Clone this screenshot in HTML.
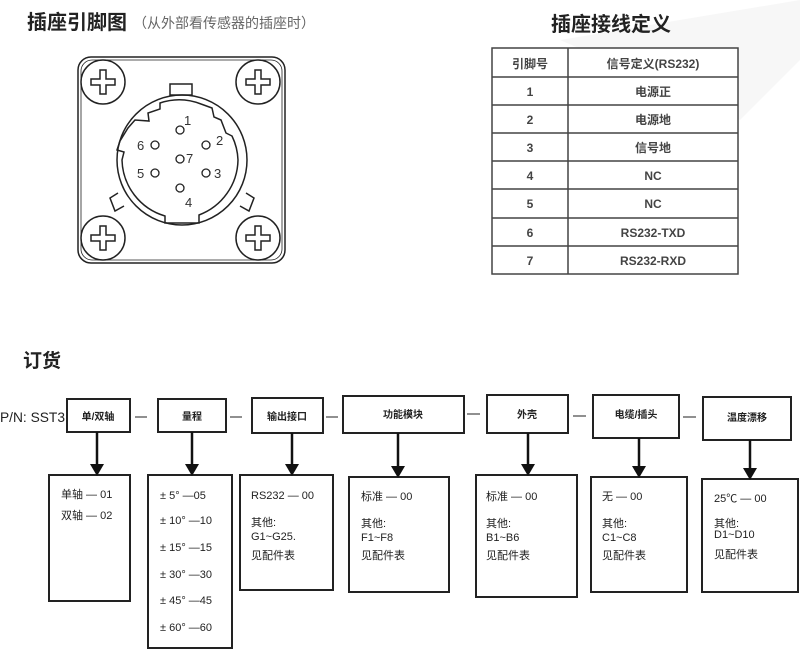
<!DOCTYPE html>
<html><head><meta charset="utf-8"><style>
html,body{margin:0;padding:0;background:#fff}
svg{display:block}
text{font-family:"Liberation Sans","Noto Sans CJK SC",sans-serif}
</style></head><body>
<svg width="800" height="650" viewBox="0 0 800 650" xmlns="http://www.w3.org/2000/svg">
<defs>
<path id="scr" d="M-3,-12 h6 v9 h9 v6 h-9 v9 h-6 v-9 h-9 v-6 h9 Z" fill="none" stroke="#222" stroke-width="1.5"/>
</defs>
<polygon points="560,40 800,0 800,60 740,120 700,100" fill="#f7f7f7"/>
<text x="27" y="29" font-size="20" font-weight="bold" fill="#222">插座引脚图</text>
<text x="133" y="28" font-size="14" fill="#666">（从外部看传感器的插座时）</text>
<text x="611" y="31" font-size="20" font-weight="bold" fill="#222" text-anchor="middle">插座接线定义</text>

<!-- connector -->
<g fill="none" stroke="#222" stroke-width="1.5">
<rect x="78" y="57" width="207" height="206" rx="13"/>
<rect x="81" y="60" width="201" height="200" rx="11" stroke-width="0.8"/>
<circle cx="103" cy="82" r="22"/><circle cx="258" cy="82" r="22"/>
<circle cx="103" cy="238" r="22"/><circle cx="258" cy="238" r="22"/>
<circle cx="182" cy="160" r="65"/>
<path d="M135,120 L128,128 L120,141 L117,150 L124,152 L122,160 A60,60 0 0 0 165,216 L165,223 L199,223 L199,215 A60,60 0 0 0 238,160 A60,60 0 0 0 232,136 L226,133 L221,120 L214,117 L212,108 L201,104 A60,60 0 0 0 160,103 L160,109 L148,113 L149,121 Z"/>
<rect x="170" y="84" width="22" height="11"/>
<path d="M118,193 L110,198 L115,211 L124,206"/>
<path d="M246,193 L254,198 L249,211 L240,206"/>
</g>
<use href="#scr" x="103" y="82"/><use href="#scr" x="258" y="82"/>
<use href="#scr" x="103" y="238"/><use href="#scr" x="258" y="238"/>
<g fill="none" stroke="#222" stroke-width="1.3">
<circle cx="180" cy="130" r="4"/><circle cx="206" cy="145" r="4"/><circle cx="206" cy="173" r="4"/>
<circle cx="180" cy="188" r="4"/><circle cx="155" cy="173" r="4"/><circle cx="155" cy="145" r="4"/>
<circle cx="180" cy="159" r="4"/>
</g>
<g font-size="13" fill="#333">
<text x="184" y="125">1</text><text x="216" y="145">2</text><text x="214" y="178">3</text>
<text x="185" y="207">4</text><text x="137" y="178">5</text><text x="137" y="150">6</text><text x="186" y="163">7</text>
</g>

<!-- table -->
<g stroke="#444" stroke-width="1.5" fill="none">
<rect x="492" y="48" width="246" height="226" fill="#fff"/>
<line x1="568" y1="48" x2="568" y2="274"/>
<line x1="492" y1="77" x2="738" y2="77"/>
<line x1="492" y1="105" x2="738" y2="105"/>
<line x1="492" y1="133" x2="738" y2="133"/>
<line x1="492" y1="161" x2="738" y2="161"/>
<line x1="492" y1="189" x2="738" y2="189"/>
<line x1="492" y1="218" x2="738" y2="218"/>
<line x1="492" y1="246" x2="738" y2="246"/>
</g>
<g font-size="12" fill="#444" text-anchor="middle" font-weight="bold">
<text x="530" y="68">引脚号</text><text x="653" y="68">信号定义(RS232)</text>
<text x="530" y="96">1</text><text x="653" y="96">电源正</text>
<text x="530" y="124">2</text><text x="653" y="124">电源地</text>
<text x="530" y="152">3</text><text x="653" y="152">信号地</text>
<text x="530" y="180">4</text><text x="653" y="180">NC</text>
<text x="530" y="208">5</text><text x="653" y="208">NC</text>
<text x="530" y="237">6</text><text x="653" y="237">RS232-TXD</text>
<text x="530" y="265">7</text><text x="653" y="265">RS232-RXD</text>
</g>

<text x="23" y="367" font-size="19" font-weight="bold" fill="#222">订货</text>
<text x="0" y="422" font-size="14" fill="#222" textLength="65" lengthAdjust="spacingAndGlyphs">P/N: SST3</text>

<g stroke="#222" stroke-width="2" fill="none">
<rect x="67" y="399" width="63" height="33"/>
<rect x="158" y="399" width="68" height="33"/>
<rect x="252" y="398" width="71" height="35"/>
<rect x="343" y="396" width="121" height="37"/>
<rect x="487" y="395" width="81" height="38"/>
<rect x="593" y="395" width="86" height="43"/>
<rect x="703" y="397" width="88" height="43"/>
<rect x="49" y="475" width="81" height="126"/>
<rect x="148" y="475" width="84" height="173"/>
<rect x="240" y="475" width="93" height="115"/>
<rect x="349" y="477" width="100" height="115"/>
<rect x="476" y="475" width="101" height="122"/>
<rect x="591" y="477" width="96" height="115"/>
<rect x="702" y="479" width="96" height="113"/>
</g>
<g stroke="#222" stroke-width="1">
<line x1="135" y1="417" x2="147" y2="417"/><line x1="230" y1="417" x2="242" y2="417"/>
<line x1="326" y1="417" x2="338" y2="417"/><line x1="467" y1="414" x2="480" y2="414"/>
<line x1="573" y1="416" x2="586" y2="416"/><line x1="683" y1="417" x2="696" y2="417"/>
</g>
<g stroke="#111" stroke-width="2.5">
<line x1="97" y1="432" x2="97" y2="465"/><line x1="192" y1="432" x2="192" y2="465"/>
<line x1="292" y1="433" x2="292" y2="465"/><line x1="398" y1="433" x2="398" y2="467"/>
<line x1="528" y1="433" x2="528" y2="465"/><line x1="639" y1="438" x2="639" y2="467"/>
<line x1="750" y1="440" x2="750" y2="469"/>
</g>
<g fill="#111">
<polygon points="90,464 104,464 97,476"/><polygon points="185,464 199,464 192,476"/>
<polygon points="285,464 299,464 292,476"/><polygon points="391,466 405,466 398,478"/>
<polygon points="521,464 535,464 528,476"/><polygon points="632,466 646,466 639,478"/>
<polygon points="743,468 757,468 750,480"/>
</g>
<g font-size="10" fill="#222" text-anchor="middle" font-weight="bold">
<text x="98" y="420">单/双轴</text><text x="192" y="420">量程</text><text x="287" y="420">输出接口</text>
<text x="403" y="418">功能模块</text><text x="527" y="418">外壳</text><text x="636" y="418">电缆/插头</text>
<text x="747" y="421">温度漂移</text>
</g>
<g font-size="11" fill="#222">
<text x="61" y="498">单轴 — 01</text><text x="61" y="519">双轴 — 02</text>
<text x="160" y="499">± 5°  —05</text><text x="160" y="524">± 10°  —10</text>
<text x="160" y="551">± 15°  —15</text><text x="160" y="578">± 30°  —30</text>
<text x="160" y="604">± 45°  —45</text><text x="160" y="631">± 60°  —60</text>
<text x="251" y="499">RS232 — 00</text><text x="251" y="526">其他:</text><text x="251" y="540">G1~G25.</text><text x="251" y="559">见配件表</text>
<text x="361" y="500">标准 — 00</text><text x="361" y="527">其他:</text><text x="361" y="541">F1~F8</text><text x="361" y="559">见配件表</text>
<text x="486" y="500">标准 — 00</text><text x="486" y="527">其他:</text><text x="486" y="541">B1~B6</text><text x="486" y="559">见配件表</text>
<text x="602" y="500">无 — 00</text><text x="602" y="527">其他:</text><text x="602" y="541">C1~C8</text><text x="602" y="559">见配件表</text>
<text x="714" y="502">25℃ — 00</text><text x="714" y="527">其他:</text><text x="714" y="538">D1~D10</text><text x="714" y="558">见配件表</text>
</g>
</svg>
</body></html>
